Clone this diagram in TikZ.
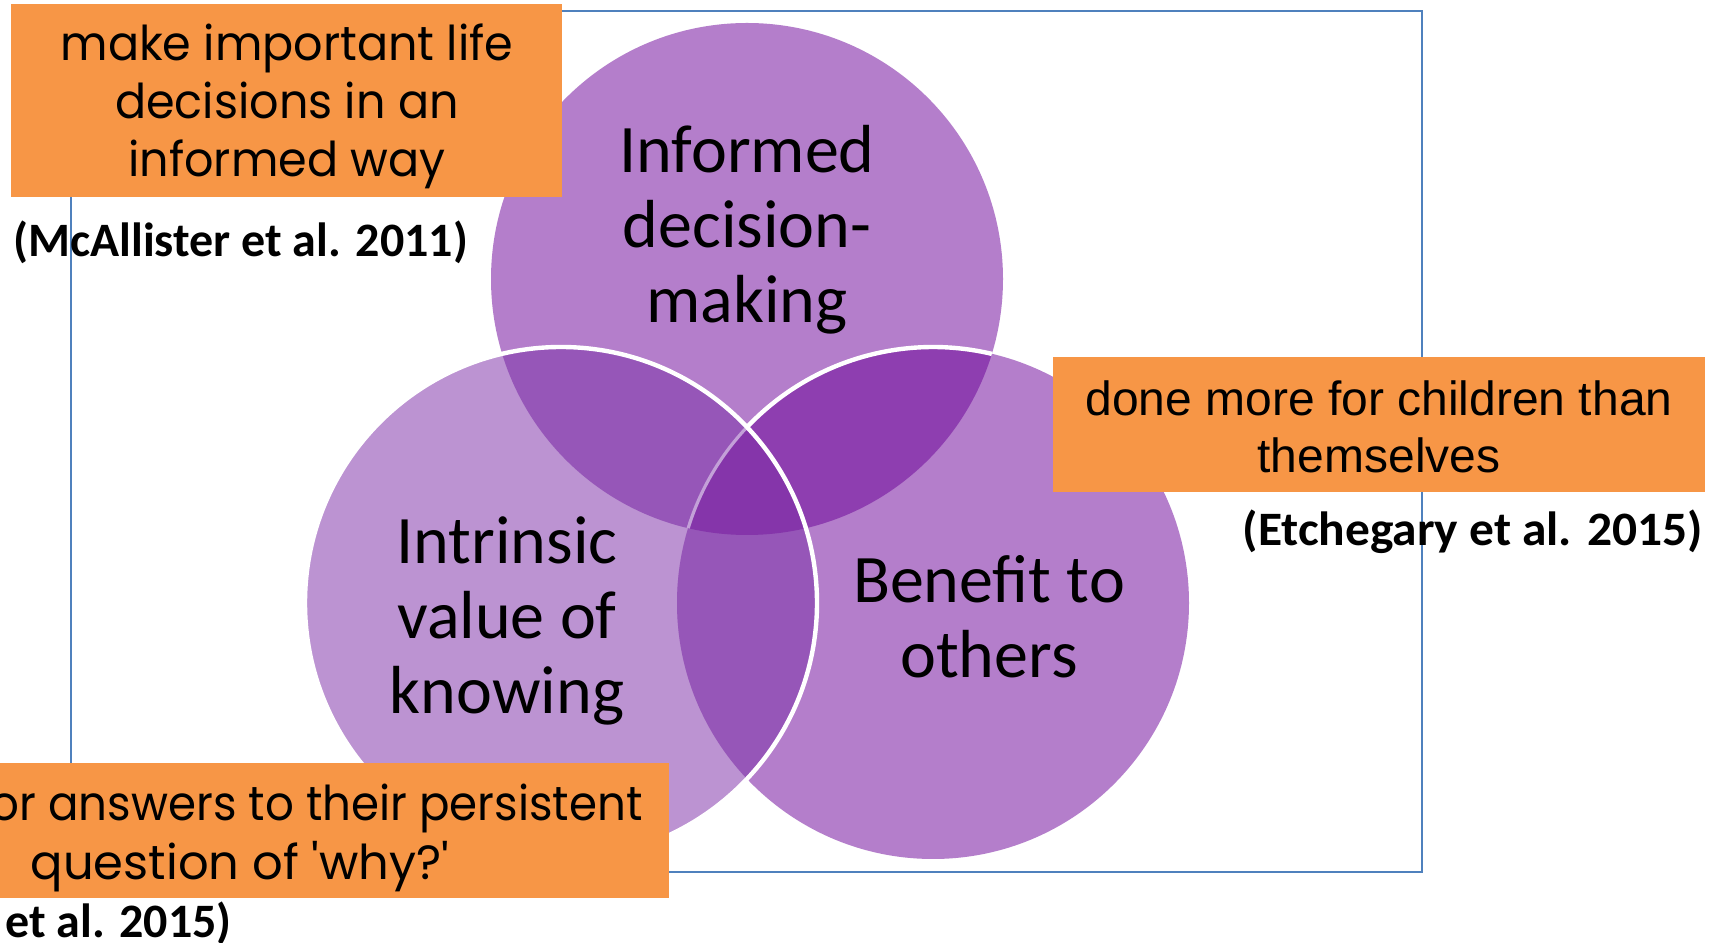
\documentclass[tikz,border=0pt]{standalone}
\usepackage{fontspec}
\setmainfont{Carlito}
\newfontfamily\gothicfont{Poppins}
\newfontfamily\gothicnarrow{Poppins}[FakeStretch=0.96]
\newfontfamily\gothictight{Poppins}[FakeStretch=0.94]
\newfontfamily\arialfont{Liberation Sans}
\newfontfamily\calibrifont{Carlito}
\newfontfamily\calibriwide{Carlito}[FakeStretch=1.03]

\definecolor{topfill}{HTML}{B47ECB}
\definecolor{leftfill}{HTML}{BC93D2}
\definecolor{rightfill}{HTML}{B47ECB}
\definecolor{topleftfill}{HTML}{9656B8}
\definecolor{toprightfill}{HTML}{8E3EB0}
\definecolor{leftrightfill}{HTML}{9656B8}
\definecolor{centrefill}{HTML}{8535AA}
\definecolor{faintline}{HTML}{C3A0D8}
\definecolor{notefill}{HTML}{F79646}
\definecolor{frameblue}{HTML}{4F81BD}

\tikzset{
  circlelabel/.style={font=\calibrifont\fontsize{34}{37.5}\selectfont, align=center, text=black, inner sep=0pt},
  notebox/.style={fill=notefill, draw=none, inner sep=0pt},
  notetext/.style={align=center, text=black, inner sep=0pt},
  citetext/.style={font=\calibrifont\bfseries\fontsize{24}{29}\selectfont, text=black, inner sep=0pt},
  outline/.style={draw=white, line width=2.2pt},
}

\begin{document}
\begin{tikzpicture}[x=0.5pt,y=0.5pt]
\useasboundingbox (0,0) rectangle (1710,943);
\fill[white] (0,0) rectangle (1710,943);

% frame
\draw[frameblue, line width=1pt] (71,71) rectangle (1422,932);

% circle centres
\coordinate (T) at (747,664);
\coordinate (L) at (561,340);
\coordinate (R) at (933,340);

% single-circle fills
\fill[topfill] (T) circle (256);
\fill[leftfill] (L) circle (256);
\fill[rightfill] (R) circle (256);

% pairwise overlaps
\begin{scope}
  \clip (T) circle (256);
  \fill[topleftfill] (L) circle (256);
  \fill[toprightfill] (R) circle (256);
\end{scope}
\begin{scope}
  \clip (L) circle (256);
  \fill[leftrightfill] (R) circle (256);
  \clip (T) circle (256);
  \fill[centrefill] (R) circle (256);
\end{scope}

% outlines
\begin{scope}
  \clip (T) circle (256);
  \draw[faintline, line width=1.6pt] (R) ++(136.6:256) arc[start angle=136.6, end angle=200, radius=256];
  \draw[outline] (R) ++(136.6:256) arc[start angle=136.6, end angle=30, radius=256];
\end{scope}
\draw[outline] (L) circle (256);

% circle labels
\node[circlelabel] (informed) at (747,713.6) {Informed\\decision-\\making};
\node[circlelabel] (intrinsic) at (507,321.6) {Intrinsic\\value of\\knowing};
\node[circlelabel] (benefit) at (989,326) {Benefit to\\others};

% notes
\node[notebox, minimum width=275.5pt, minimum height=96.5pt] (note1) at (286.5,842.5) {};
\node[notetext, font=\gothicnarrow\fontsize{24}{29}\selectfont] (note1text) at (287,836.5)
  {make important life\\decisions in an\\informed way};
\node[citetext, anchor=west] (cite1) at (13,701) {(McAllister et al. 2011)};

\node[notebox, minimum width=326pt, minimum height=67.5pt] (note2) at (1379,518.5) {};
\node[notetext, font=\arialfont\fontsize{24}{28.5}\selectfont] (note2text) at (1379,516)
  {done more for children than\\themselves};
\node[citetext, font=\calibriwide\bfseries\fontsize{24}{29}\selectfont, anchor=east] (cite2) at (1703,411) {(Etchegary et al. 2015)};

\node[notebox, minimum width=335.5pt, minimum height=67.5pt] (note3) at (333.5,112.5) {};
\node[notetext, font=\gothictight\fontsize{24}{29}\selectfont, anchor=east] (note3a) at (643,134.6) {or answers to their persistent};
\node[notetext, font=\gothicfont\fontsize{24}{29}\selectfont] (note3b) at (240,76.6) {question of 'why?'};
\node[citetext, anchor=west] (cite3) at (5,19.5) {et al. 2015)};
\end{tikzpicture}
\end{document}
